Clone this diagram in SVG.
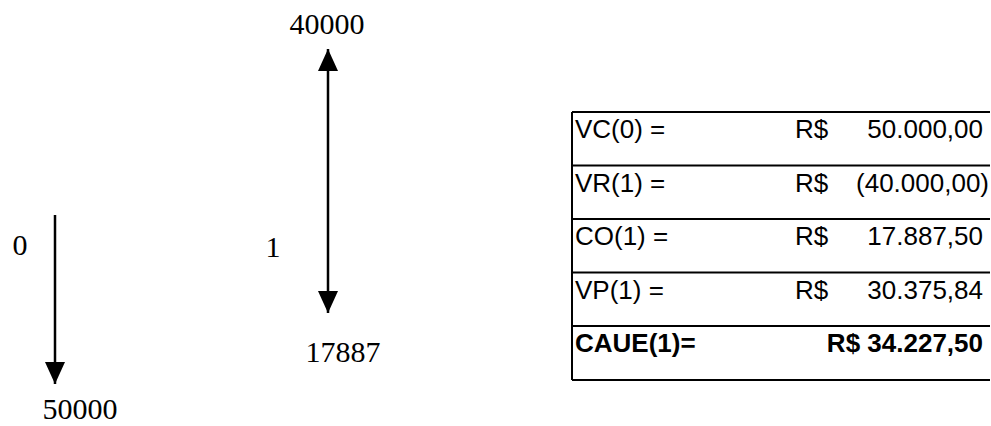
<svg xmlns="http://www.w3.org/2000/svg" width="991" height="426" viewBox="0 0 991 426">
<defs>
<marker id="ah" markerWidth="22" markerHeight="20" refX="22" refY="10" orient="auto-start-reverse" markerUnits="userSpaceOnUse" viewBox="0 0 22 20">
<path d="M0,0 L22,10 L0,20 Z" fill="#000"/>
</marker>
<style>
.num{font-family:"Liberation Serif","Times New Roman",serif;font-size:30px;fill:#000}
.cell{font-family:"Liberation Sans",Arial,sans-serif;font-size:26px;fill:#000}
.bold{font-weight:bold}
.grid{stroke:#000;stroke-width:2;fill:none}
.arrow{stroke:#000;stroke-width:2.5;fill:none}
</style>
</defs>
<rect width="991" height="426" fill="#fff"/>
<g id="connectors">
<line class="arrow" x1="55" y1="215" x2="55" y2="384" marker-end="url(#ah)"/>
<line class="arrow" x1="328" y1="49" x2="328" y2="313" marker-start="url(#ah)" marker-end="url(#ah)"/>
</g>
<g id="node-t0">
<text class="num" x="20" y="255" text-anchor="middle">0</text>
<text class="num" x="80" y="419" text-anchor="middle">50000</text>
</g>
<g id="node-t1">
<text class="num" x="273" y="257" text-anchor="middle">1</text>
<text class="num" x="327" y="34" text-anchor="middle">40000</text>
<text class="num" x="343" y="362" text-anchor="middle">17887</text>
</g>
<g id="table">
<path class="grid" d="M572,112 V380 M572,112 H990 M572,165.5 H990 M572,219 H990 M572,272.5 H990 M572,326 H990 M572,380 H990"/>
<text class="cell" x="575" y="138">VC(0) =</text>
<text class="cell" x="795" y="138">R$</text>
<text class="cell" x="983" y="138" text-anchor="end">50.000,00</text>
<text class="cell" x="575" y="191.5">VR(1) =</text>
<text class="cell" x="795" y="191.5">R$</text>
<text class="cell" x="989" y="191.5" text-anchor="end">(40.000,00)</text>
<text class="cell" x="575" y="245">CO(1) =</text>
<text class="cell" x="795" y="245">R$</text>
<text class="cell" x="983" y="245" text-anchor="end">17.887,50</text>
<text class="cell" x="575" y="298.5">VP(1) =</text>
<text class="cell" x="795" y="298.5">R$</text>
<text class="cell" x="983" y="298.5" text-anchor="end">30.375,84</text>
<text class="cell bold" x="575" y="352">CAUE(1)=</text>
<text class="cell bold" x="983" y="352" text-anchor="end">R$ 34.227,50</text>
</g>
</svg>
